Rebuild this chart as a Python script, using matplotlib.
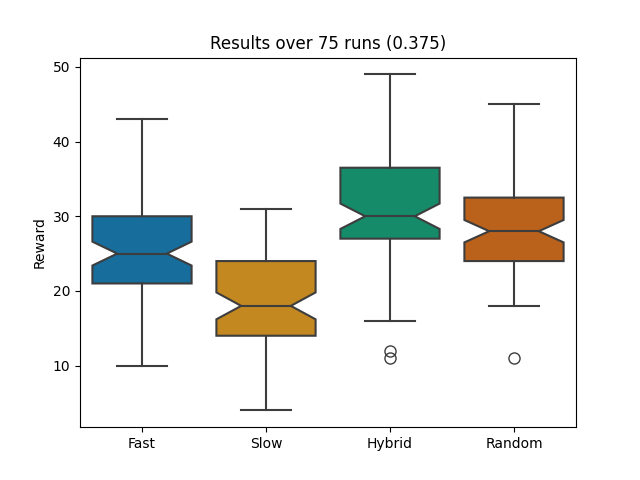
import matplotlib
matplotlib.use("Agg")
import matplotlib.pyplot as plt
import seaborn as sns

# values
labels = ["Fast", "Slow", "Hybrid", "Random"]
medians = [25, 18, 30, 28]
q1s = [21, 14, 27, 24]
q3s = [30, 24, 36.5, 32.5]
whisk_lo = [10, 4, 16, 18]
whisk_hi = [43, 31, 49, 45]
notch_lo = [23.4, 16.2, 28.3, 26.5]
notch_hi = [26.6, 19.8, 31.7, 29.5]
fliers = [[], [], [11, 12], [11]]

palette = sns.color_palette("colorblind", 4)
colors = [sns.desaturate(c, 0.75) for c in palette]
line_col = "#3d3d3d"

stats = []
for i, lab in enumerate(labels):
    stats.append(dict(label=lab, med=medians[i], q1=q1s[i], q3=q3s[i],
                      whislo=whisk_lo[i], whishi=whisk_hi[i],
                      cilo=notch_lo[i], cihi=notch_hi[i], fliers=fliers[i]))

fig, ax = plt.subplots(figsize=(6.4, 4.8), dpi=100)

bp = ax.bxp(stats, positions=range(len(labels)), widths=0.8, shownotches=True,
            patch_artist=True,
            boxprops=dict(edgecolor=line_col, linewidth=1.5),
            medianprops=dict(color=line_col, linewidth=1.5),
            whiskerprops=dict(color=line_col, linewidth=1.5),
            capprops=dict(color=line_col, linewidth=1.5),
            flierprops=dict(marker="o", markerfacecolor="none",
                            markeredgecolor=line_col, markersize=8,
                            markeredgewidth=1.0))
for patch, c in zip(bp["boxes"], colors):
    patch.set_facecolor(c)

# shorten caps to match seaborn look
for i, cap in enumerate(bp["caps"]):
    x0, x1 = cap.get_xdata()
    mid = (x0 + x1) / 2
    cap.set_xdata([mid - 0.2, mid + 0.2])

ax.set_xlim(-0.5, len(labels) - 0.5)
ax.set_xticks(range(len(labels)))
ax.set_xticklabels(labels)
ax.set_ylabel("Reward")
ax.set_title("Results over 75 runs (0.375)")

plt.savefig("out.png", dpi=100)
